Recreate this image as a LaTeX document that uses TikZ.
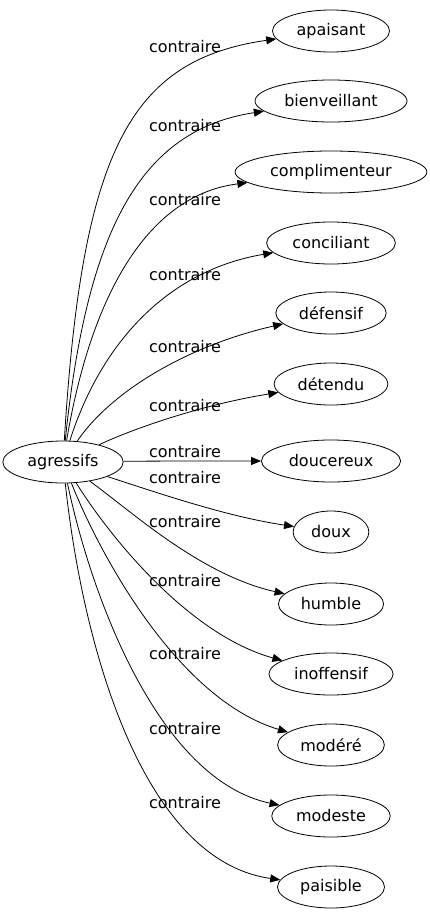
\documentclass[tikz,border=0pt]{standalone}
\usepackage{fontspec}
\setmainfont{DejaVu Sans}
\usetikzlibrary{shapes.geometric,arrows.meta}

\begin{document}
\begin{tikzpicture}[x=1pt,y=-1pt,
    mot/.style={draw,ellipse,line width=0.8pt,inner xsep=7pt,inner ysep=6pt,minimum height=42pt,
      font=\fontsize{16}{19}\selectfont},
    rel/.style={inner sep=0pt,font=\fontsize{16}{19}\selectfont},
    fleche/.style={-{Triangle[length=10pt,width=8pt]},line width=0.8pt}]
    \useasboundingbox (0,0) rectangle (430,923);
    \node[mot] (ag) at (63,462) {agressifs};
    \foreach \n/\t/\y in {apa/apaisant/31,bie/bienveillant/101,com/complimenteur/172,
        con/conciliant/243,def/défensif/313,det/détendu/384,dou/doucereux/461,
        dx/doux/532,hum/humble/604,ino/inoffensif/674,mod/modéré/745,
        mde/modeste/816,pai/paisible/887}{
        \node[mot] (\n) at (331,\y) {\t};
    }
    \foreach \n/\ax/\ay/\bx/\by/\ly in {apa/82/150/130/60/47,bie/87/230/140/130/126,
        com/92/290/150/195/200,con/102/340/170/270/275,def/112/390/190/345/347,
        det/130/430/200/405/406,dou/150/461/220/461/452,dx/170/497/230/517/478,
        hum/130/510/200/575/522,ino/112/540/190/635/581,mod/102/560/180/700/654,
        mde/92/600/160/780/729,pai/82/640/140/860/803}{
        \draw[fleche] (ag) .. controls (\ax,\ay) and (\bx,\by) .. (\n);
        \node[rel] (l-\n) at (185,\ly) {contraire};
    }
\end{tikzpicture}
\end{document}
